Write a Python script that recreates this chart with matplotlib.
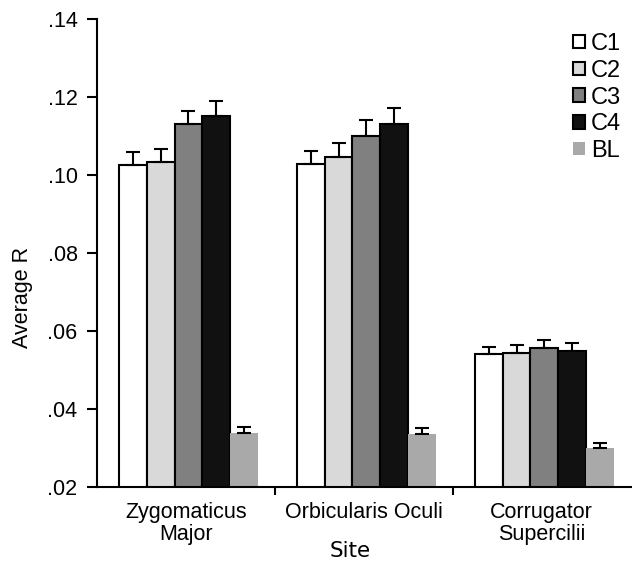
import numpy as np
import matplotlib
matplotlib.use("Agg")
import matplotlib.pyplot as plt
from matplotlib.ticker import FuncFormatter

plt.rcParams['font.family'] = ['Liberation Sans', 'DejaVu Sans']

sites = ["Zygomaticus\nMajor", "Orbicularis Oculi", "Corrugator\nSupercilii"]
series = ["C1", "C2", "C3", "C4", "BL"]
c1 = [0.1026, 0.1028, 0.0542]
c2 = [0.1033, 0.1045, 0.0544]
c3 = [0.1131, 0.1101, 0.0557]
c4 = [0.1151, 0.1130, 0.0549]
bl = [0.0338, 0.0337, 0.0299]
c1_err = [0.0032, 0.0033, 0.0018]
c2_err = [0.0033, 0.0036, 0.0020]
c3_err = [0.0034, 0.0041, 0.0020]
c4_err = [0.0039, 0.0041, 0.0019]
bl_err = [0.0017, 0.0015, 0.0013]

values = [c1, c2, c3, c4, bl]
errors = [c1_err, c2_err, c3_err, c4_err, bl_err]
colors = ["#ffffff", "#d9d9d9", "#808080", "#111111", "#a9a9a9"]
edges = ["black", "black", "black", "black", "none"]

fig = plt.figure(figsize=(6.32, 5.65), dpi=100)
ax = fig.add_axes([97/632, 1-487/565, 1-97/632-0.002, (487-19)/565])

x = np.arange(len(sites))
w = 0.156
for i, (s, v, e, c, ec) in enumerate(zip(series, values, errors, colors, edges)):
    pos = x + (i - 2) * w + 0.014
    ax.bar(pos, v, width=w, color=c, edgecolor=ec, linewidth=1.5, label=s, zorder=2)
    ax.errorbar(pos, v, yerr=[np.zeros(len(e)), e], fmt='none', ecolor='black',
                elinewidth=1.5, capsize=5, capthick=1.5, zorder=3)

ax.set_xlim(-0.5, 2.5)
ax.set_ylim(0.02, 0.14)
ax.set_yticks(np.arange(0.02, 0.1401, 0.02))
ax.yaxis.set_major_formatter(FuncFormatter(lambda v, p: ("%.2f" % v)[1:]))
ax.set_xticks(x)
ax.set_xticklabels(sites, fontsize=15.5, linespacing=1.05)
ax.set_xticks([0.5, 1.5], minor=True)
ax.tick_params(axis='x', which='major', length=0, pad=11)
ax.tick_params(axis='x', which='minor', length=6, width=1.5, direction='out')
ax.tick_params(axis='y', labelsize=15.5, length=7, width=1.5, direction='out', pad=7)
for sp in ['top', 'right']:
    ax.spines[sp].set_visible(False)
for sp in ['left', 'bottom']:
    ax.spines[sp].set_linewidth(1.5)

ax.set_ylabel("Average R", fontsize=15.5)
ax.yaxis.set_label_coords(-(97 - 33) / 534, (487 - 297) / 468)
ax.set_xlabel("Site", fontsize=15.5, family=['DejaVu Sans'])
ax.xaxis.set_label_coords((350 - 97) / 534, -(541 - 487) / 468)

ax.legend(loc='upper right', bbox_to_anchor=(1.0, 0.99), frameon=False, fontsize=17,
          handlelength=0.5, handleheight=0.5, handletextpad=0.25, labelspacing=0.2,
          borderaxespad=0.0)

fig.savefig("out.png", dpi=100)
